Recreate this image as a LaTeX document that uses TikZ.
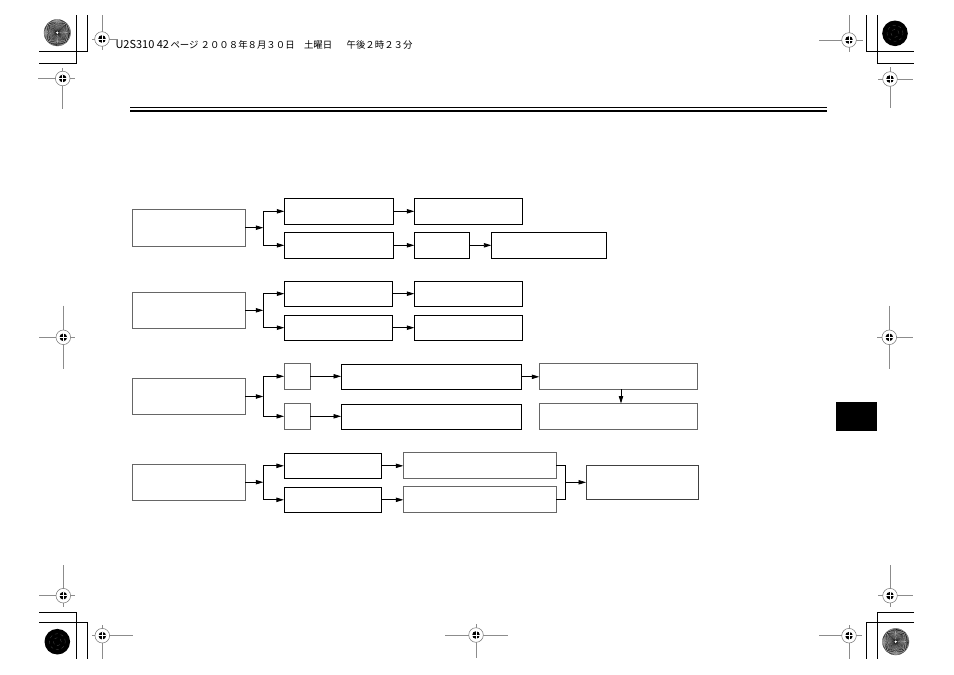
\documentclass[tikz,border=0pt]{standalone}
\usepackage{fontspec}
\newfontfamily\jpfont{Noto Sans CJK JP}
\usetikzlibrary{arrows.meta}
\newcommand\myreg[6]{%
  \draw[regl] (#3,#2) -- (#4,#2);
  \draw[regl] (#1,#5) -- (#1,#6);
  \fill[white] (#1,#2) circle[radius=7.3pt];
  \draw[black!55,line width=0.5pt] (#1,#2) circle[radius=7.3pt];
  \fill[black] (#1,#2) circle[radius=3.8pt];
  \draw[white,line width=0.7pt] (#1-4,#2) -- (#1+4,#2) (#1,#2-4) -- (#1,#2+4);
}
\newcommand\mysun[2]{%
  \fill[white] (#1,#2) circle[radius=13.3pt];
  \foreach \a in {0,5,...,355}{\fill[black] (#1,#2) -- ++(\a:13.3pt) arc[start angle=\a, end angle=\a+2.5, radius=13.3pt] -- cycle;}
  \draw[black!60,line width=0.3pt] (#1,#2) circle[radius=13.3pt];
  \fill[white] (#1,#2) circle[radius=1.3pt];
}
\newcommand\mydisk[2]{%
  \fill[black] (#1,#2) circle[radius=12.8pt];
  \draw[black!70!white,dashed,line width=0.3pt] (#1,#2) circle[radius=4pt] (#1,#2) circle[radius=8pt];
}
\begin{document}
\begin{tikzpicture}[x=1pt,y=-1pt,
  bx/.style={draw=black,line width=0.9pt,inner sep=0pt,outer sep=0pt,fill=white},
  gbx/.style={bx,draw=black!60},
  arr/.style={line width=0.8pt,-{Triangle[length=7.5pt,width=4.4pt]}},
  ln/.style={line width=0.8pt},
  crop/.style={line width=0.9pt},
  regl/.style={line width=0.6pt,draw=black!45},
]
\useasboundingbox (0,0) rectangle (954,675);
\fill[white] (0,0) rectangle (954,675);

% crop marks
\draw[crop] (76.7,15) -- (76.7,63.3) -- (39,63.3);
\draw[crop] (87.7,15) -- (87.7,51.7) -- (39,51.7);
\draw[crop] (866,15) -- (866,51.7) -- (914,51.7);
\draw[crop] (877.3,15) -- (877.3,63.3) -- (914,63.3);
\draw[crop] (39,612.3) -- (76.7,612.3) -- (76.7,659);
\draw[crop] (39,622.7) -- (87.7,622.7) -- (87.7,659);
\draw[crop] (914,612.3) -- (877.3,612.3) -- (877.3,659);
\draw[crop] (914,622.7) -- (866,622.7) -- (866,659);

% registration circles
\mysun{57.3}{32.7}
\mydisk{895}{33.3}
\mydisk{57.3}{641.7}
\mysun{895.7}{641.7}

% registration crosses
\myreg{102}{39}{92}{118}{15}{50}
\myreg{62.7}{78.5}{38.3}{75}{68}{109}
\myreg{849}{40}{819}{862.7}{15}{51.7}
\myreg{890}{79}{878}{913}{67}{108}
\myreg{63.3}{337.3}{39}{75}{305.7}{369}
\myreg{889.3}{337.3}{877.3}{912.7}{305.7}{369}
\myreg{63.3}{595.7}{39}{75}{565}{606.7}
\myreg{102.3}{635.7}{92}{133}{625}{659}
\myreg{476}{635}{445}{507.7}{624.3}{658.3}
\myreg{890}{595.7}{878}{913}{565}{607}
\myreg{849}{635.7}{819}{862}{625}{659}

% header
\node[anchor=base west,inner sep=0pt,font=\jpfont] (hdr) at (115.3,48.3)
  {{\fontsize{11}{12}\selectfont U2S310 42}\hspace{1.5pt}{\fontsize{9.4}{12}\selectfont ページ ２００８年８月３０日　土曜日　\hspace{5pt}午後２時２３分}};

% double rule
\draw[line width=1.2pt] (130,107.5) -- (826.7,107.5);
\draw[line width=2.2pt] (130,111.3) -- (826.7,111.3);

% tab
\node[fill=black,inner sep=0pt,minimum width=41pt,minimum height=29pt] (tab) at (856.5,416.5) {};

% left boxes
\node[gbx,minimum width=113pt,minimum height=36.5pt] (L1) at (188.8,227.7) {};
\node[gbx,minimum width=113pt,minimum height=36.5pt] (L2) at (188.8,310.3) {};
\node[gbx,minimum width=113pt,minimum height=36.5pt] (L3) at (188.8,396.5) {};
\node[gbx,minimum width=113pt,minimum height=36.5pt] (L4) at (188.8,482.2) {};

% row 1
\node[bx,minimum width=109.4pt,minimum height=26pt] (A1) at (339,211.3) {};
\node[bx,minimum width=109.4pt,minimum height=26pt] (A2) at (339,245.3) {};
\node[bx,minimum width=108.4pt,minimum height=26pt] (B1) at (468.5,211.3) {};
\node[bx,minimum width=55pt,minimum height=26pt] (B2) at (441.8,245.3) {};
\node[bx,minimum width=114.7pt,minimum height=26pt] (C2) at (548.7,245.3) {};

% row 2
\node[bx,minimum width=108.4pt,minimum height=25.3pt] (A3) at (338.5,293.7) {};
\node[bx,minimum width=108.4pt,minimum height=25.3pt] (A4) at (338.5,327.7) {};
\node[bx,minimum width=108.4pt,minimum height=25.3pt] (B3) at (468.5,293.7) {};
\node[bx,minimum width=108.4pt,minimum height=25.3pt] (B4) at (468.5,327.7) {};

% row 3
\node[gbx,minimum width=26.3pt,minimum height=26pt] (S1) at (297.2,376.3) {};
\node[gbx,minimum width=26.3pt,minimum height=26pt] (S2) at (297.2,416.3) {};
\node[bx,minimum width=180.3pt,minimum height=25pt] (D1) at (431.2,376.8) {};
\node[bx,minimum width=180.3pt,minimum height=25pt] (D2) at (431.2,416.8) {};
\node[gbx,minimum width=158pt,minimum height=25.6pt] (E1) at (618.3,376.5) {};
\node[gbx,minimum width=158pt,minimum height=25.6pt] (E2) at (618.3,416.3) {};

% row 4
\node[bx,minimum width=97.7pt,minimum height=25pt] (F1) at (332.8,465.8) {};
\node[bx,minimum width=97.7pt,minimum height=25pt] (F2) at (332.8,499.8) {};
\node[gbx,minimum width=153pt,minimum height=26pt] (G1) at (479.8,465.3) {};
\node[gbx,minimum width=153pt,minimum height=26pt] (G2) at (479.8,499.2) {};
\node[gbx,draw=black!75,minimum width=112.3pt,minimum height=34pt] (H) at (642.2,482.3) {};

% junctions
\coordinate (j1) at (263.3,227.7);
\coordinate (j2) at (263.3,310.3);
\coordinate (j3) at (263.3,396.5);
\coordinate (j4) at (263.3,482.2);
\coordinate (m) at (565.3,482.3);

% row 1 connectors
\draw[arr] (L1.east) -- (j1);
\draw[ln] (j1 |- A1.west) -- (j1 |- A2.west);
\draw[arr] (j1 |- A1.west) -- (A1.west);
\draw[arr] (j1 |- A2.west) -- (A2.west);
\draw[arr] (A1.east) -- (B1.west);
\draw[arr] (A2.east) -- (B2.west);
\draw[arr] (B2.east) -- (C2.west);

% row 2 connectors
\draw[arr] (L2.east) -- (j2);
\draw[ln] (j2 |- A3.west) -- (j2 |- A4.west);
\draw[arr] (j2 |- A3.west) -- (A3.west);
\draw[arr] (j2 |- A4.west) -- (A4.west);
\draw[arr] (A3.east) -- (B3.west);
\draw[arr] (A4.east) -- (B4.west);

% row 3 connectors
\draw[arr] (L3.east) -- (j3);
\draw[ln] (j3 |- S1.west) -- (j3 |- S2.west);
\draw[arr] (j3 |- S1.west) -- (S1.west);
\draw[arr] (j3 |- S2.west) -- (S2.west);
\draw[arr] (S1.east) -- (D1.west |- S1.east);
\draw[arr] (S2.east) -- (D2.west |- S2.east);
\draw[arr] (D1.east) -- (E1.west |- D1.east);
\draw[arr] ([xshift=2.7pt]E1.south) -- ([xshift=2.7pt]E2.north);

% row 4 connectors
\draw[arr] (L4.east) -- (j4);
\draw[ln] (j4 |- F1.west) -- (j4 |- F2.west);
\draw[arr] (j4 |- F1.west) -- (F1.west);
\draw[arr] (j4 |- F2.west) -- (F2.west);
\draw[arr] (F1.east) -- (G1.west |- F1.east);
\draw[arr] (F2.east) -- (G2.west |- F2.east);
\draw[ln] (G1.east) -- (G1.east -| m) -- (G2.east -| m) -- (G2.east);
\draw[arr] (m) -- (H.west);
\end{tikzpicture}
\end{document}
